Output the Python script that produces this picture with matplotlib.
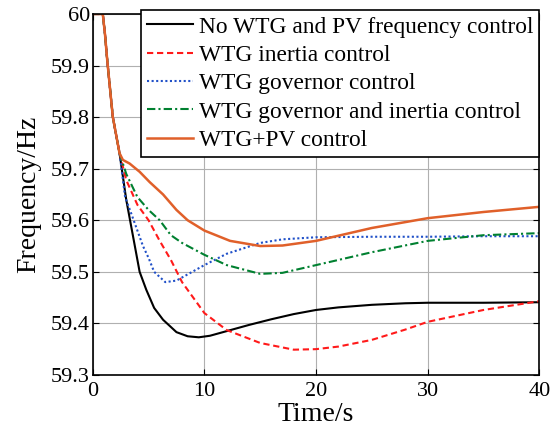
import matplotlib
matplotlib.use("Agg")
import matplotlib.pyplot as plt

plt.rcParams['font.family'] = ['Liberation Serif', 'DejaVu Serif']

t_common = [0, 0.9, 1.1, 1.3, 1.8, 2.4]
f_common = [60.0, 60.0, 59.96, 59.91, 59.80, 59.73]

t_black = t_common + [3, 4.2, 4.8, 5.5, 6.3, 7.5, 8.5, 9.5, 10.5, 12, 14, 16, 18, 20, 22, 25, 28, 30, 35, 40]
f_black = f_common + [59.64, 59.50, 59.465, 59.43, 59.407, 59.383, 59.375, 59.373, 59.376, 59.385, 59.397, 59.408, 59.418, 59.426, 59.431, 59.436, 59.439, 59.440, 59.440, 59.441]

t_red = t_common + [3, 4, 5, 6, 7, 8, 9, 10, 12, 15, 18, 20, 22, 25, 28, 30, 35, 40]
f_red = f_common + [59.678, 59.63, 59.60, 59.56, 59.523, 59.48, 59.45, 59.42, 59.387, 59.362, 59.349, 59.350, 59.355, 59.368, 59.388, 59.403, 59.426, 59.443]

t_blue = t_common + [2.9, 3.5, 4, 4.5, 5, 5.5, 6.5, 7.5, 8.5, 10, 12, 15, 17, 20, 25, 30, 35, 40]
f_blue = f_common + [59.645, 59.61, 59.58, 59.55, 59.527, 59.50, 59.48, 59.483, 59.495, 59.513, 59.535, 59.556, 59.563, 59.567, 59.568, 59.568, 59.569, 59.569]

t_green = t_common + [3, 4, 5, 6, 7, 8, 10, 12, 15, 17, 20, 25, 30, 35, 40]
f_green = f_common + [59.69, 59.645, 59.62, 59.60, 59.571, 59.556, 59.533, 59.513, 59.496, 59.498, 59.513, 59.538, 59.560, 59.571, 59.575]

t_orange = t_common + [2.7, 3.3, 4.2, 5.1, 6.3, 7.5, 8.5, 10, 12.3, 15, 17, 20, 25, 30, 35, 40]
f_orange = f_common + [59.717, 59.71, 59.694, 59.674, 59.65, 59.62, 59.60, 59.58, 59.56, 59.55, 59.551, 59.56, 59.585, 59.604, 59.616, 59.626]

labels = ["No WTG and PV frequency control", "WTG inertia control", "WTG governor control",
          "WTG governor and inertia control", "WTG+PV control"]

x_ticks = [0, 10, 20, 30, 40]
y_ticks = [59.3, 59.4, 59.5, 59.6, 59.7, 59.8, 59.9, 60.0]
y_ticklabels = ["59.3", "59.4", "59.5", "59.6", "59.7", "59.8", "59.9", "60"]

fig = plt.figure(figsize=(5.52, 4.37), dpi=100)
ax = fig.add_axes([0.168, 0.142, 0.809, 0.826])

ax.plot(t_black, f_black, color='black', lw=1.5, ls='-', label=labels[0])
ax.plot(t_red, f_red, color='#ff1a1a', lw=1.5, ls=(0, (3, 1.8)), label=labels[1])
ax.plot(t_blue, f_blue, color='#2050c8', lw=1.5, ls=(0, (1, 1.2)), label=labels[2])
ax.plot(t_green, f_green, color='#008030', lw=1.5, ls=(0, (4, 1.5, 1, 1.5)), label=labels[3])
ax.plot(t_orange, f_orange, color='#e0602a', lw=1.8, ls='-', label=labels[4])

ax.set_xlim(0, 40)
ax.set_ylim(59.3, 60.0)
ax.set_xticks(x_ticks)
ax.set_yticks(y_ticks)
ax.set_yticklabels(y_ticklabels)
ax.tick_params(direction='in', top=True, right=True, labelsize=16, length=4)
ax.tick_params(axis='y', pad=2)
ax.tick_params(axis='x', pad=5)
ax.grid(True, color='#b0b0b0', lw=0.8)
for s in ax.spines.values():
    s.set_linewidth(1.2)

ax.set_xlabel("Time/s", fontsize=20, labelpad=1)
ax.set_ylabel("Frequency/Hz", fontsize=20, labelpad=7)

leg = ax.legend(loc='upper right', bbox_to_anchor=(1.0, 1.01), fontsize=16.8, frameon=True, fancybox=False,
                edgecolor='black', framealpha=1, borderpad=0.25, labelspacing=0.3,
                handlelength=2.0, handletextpad=0.25, borderaxespad=0.0)
leg.get_frame().set_linewidth(1.2)

fig.savefig("out.png", dpi=100)
